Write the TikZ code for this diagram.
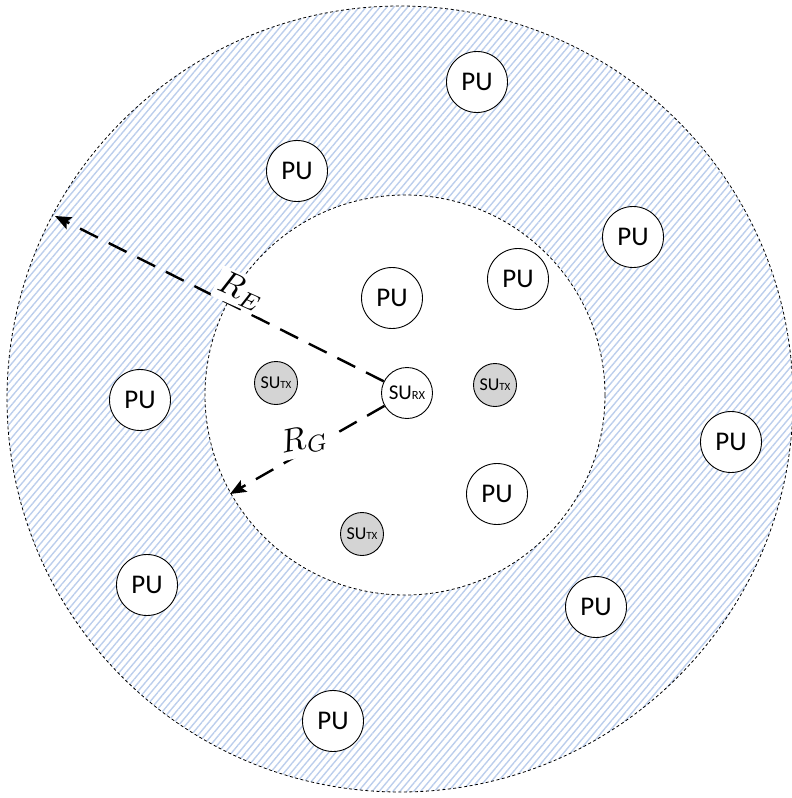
\documentclass[tikz,border=0pt]{standalone}
\usepackage{fontspec}
\setmainfont{Carlito}
\usetikzlibrary{patterns.meta,arrows.meta}
\definecolor{hatch}{RGB}{188,206,236}
\tikzset{
  pu/.style={circle,draw,line width=0.9pt,fill=white,minimum size=61pt,inner sep=0pt,font=\fontsize{27}{27}\selectfont},
  sutx/.style={circle,draw,line width=0.9pt,fill=black!17,minimum size=43pt,inner sep=0pt,font=\fontsize{18}{18}\selectfont},
  surx/.style={circle,draw,line width=0.9pt,fill=white,minimum size=51pt,inner sep=0pt,font=\fontsize{21}{21}\selectfont},
  rangearrow/.style={line width=2.4pt,dash pattern=on 20pt off 12pt,-{Stealth[length=16pt,width=13pt,inset=3pt]}},
  rlabel/.style={fill=white,inner sep=0.8pt,scale=3.3},
  zone/.style={line width=0.8pt,dash pattern=on 3pt off 2.5pt}
}
\newcommand{\sub}[1]{{\fontsize{11}{11}\selectfont #1}}
\newcommand{\subr}[1]{{\fontsize{12.5}{12.5}\selectfont #1}}
\begin{document}
\begin{tikzpicture}[x=1pt,y=-1pt]
\useasboundingbox (0,0) rectangle (792,798);
% zones
\path[pattern={Lines[angle=50,distance=5.3pt,line width=1.4pt]},pattern color=hatch] (400,399) circle[radius=393];
\draw[zone] (400,399) circle[radius=393];
\fill[white] (405,395) circle[radius=200];
\draw[zone] (405,395) circle[radius=200];
% nodes
\node[pu] (p1) at (477,82) {PU};
\node[pu] (p2) at (297,171) {PU};
\node[pu] (p3) at (633,237) {PU};
\node[pu] (p4) at (518,279) {PU};
\node[pu] (p5) at (392,298) {PU};
\node[pu] (p6) at (140,400) {PU};
\node[pu] (p7) at (731,442) {PU};
\node[pu] (p8) at (497,494) {PU};
\node[pu] (p9) at (147,585) {PU};
\node[pu] (p10) at (596,607) {PU};
\node[pu] (p11) at (333,721) {PU};
\node[sutx] (t1) at (276,383) {SU\sub{TX}};
\node[sutx] (t2) at (495,385) {SU\sub{TX}};
\node[sutx] (t3) at (362,534) {SU\sub{TX}};
\node[surx] (rx) at (407,393) {SU\subr{RX}};
\coordinate (re) at (55,216);
\coordinate (rg) at (230,494);
\draw[rangearrow] (rx) -- (re);
\draw[rangearrow] (rx) -- (rg);
\node[rlabel,rotate=-24] (le) at (241,291) {$R_E$};
\node[rlabel,rotate=12] (lg) at (304,440) {$R_G$};
\end{tikzpicture}
\end{document}
